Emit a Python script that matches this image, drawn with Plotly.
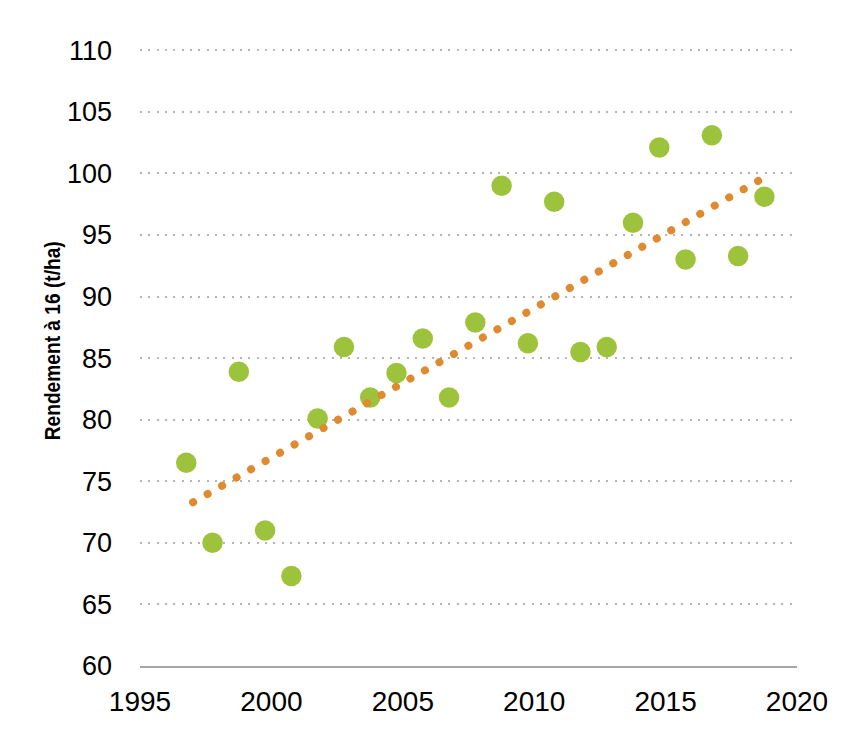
import plotly.graph_objects as go

x_points = [1996.76, 1997.76, 1998.76, 1999.76, 2000.76, 2001.76, 2002.76, 2003.76,
            2004.76, 2005.76, 2006.76, 2007.76, 2008.76, 2009.76, 2010.76, 2011.76,
            2012.76, 2013.76, 2014.76, 2015.76, 2016.76, 2017.76, 2018.76]
yields = [76.5, 70.0, 83.9, 71.0, 67.3, 80.1, 85.9, 81.8,
          83.8, 86.6, 81.8, 87.9, 99.0, 86.2, 97.7, 85.5,
          85.9, 96.0, 102.1, 93.0, 103.1, 93.3, 98.1]

# Linear trend end points (as drawn)
trend_x = [1997.02, 2018.53]
trend_y = [73.3, 99.4]

x_ticks = [1995, 2000, 2005, 2010, 2015, 2020]
y_ticks = [60, 65, 70, 75, 80, 85, 90, 95, 100, 105, 110]
y_title = "Rendement à 16 (t/ha)"

GREEN = "#9DC33C"
ORANGE = "#DF8A2F"

fig = go.Figure()
fig.add_trace(go.Scatter(
    x=x_points, y=yields, mode="markers",
    marker=dict(size=20.5, color=GREEN, line=dict(width=0)),
    hoverinfo="skip", showlegend=False,
))
fig.add_trace(go.Scatter(
    x=trend_x, y=trend_y, mode="lines",
    line=dict(color=ORANGE, width=8, dash="0.1px,16.6px"),
    hoverinfo="skip", showlegend=False,
))

fig.update_layout(
    width=850, height=738,
    margin=dict(l=140, r=53, t=49, b=72),
    paper_bgcolor="white", plot_bgcolor="white",
    font=dict(family="Liberation Sans, Arial, sans-serif", color="black"),
    showlegend=False,
)
fig.update_xaxes(
    range=[1995, 2020], tickvals=x_ticks, ticktext=[str(v) for v in x_ticks],
    showgrid=False, zeroline=False, showline=True, automargin=False,
    linecolor="#A6A6A6", linewidth=1.5, ticks="",
    tickfont=dict(size=28), ticklabelstandoff=10,
)
fig.update_yaxes(
    range=[60, 110.1], tickvals=y_ticks, ticktext=[str(v) for v in y_ticks],
    showgrid=True, gridcolor="#B4B4B4", gridwidth=2, griddash="2px,6.33px",
    zeroline=False, showline=False, ticks="", automargin=False,
    tickfont=dict(size=27), ticklabelstandoff=27,
)
fig.add_annotation(
    text=y_title, textangle=-90, showarrow=False,
    xref="paper", yref="paper", x=-0.1324, y=0.526,
    xanchor="center", yanchor="middle",
    font=dict(family="Liberation Sans, Arial, sans-serif", size=21.5, weight="bold", color="black"),
)

post = """
document.body.style.margin = '0';
document.body.style.padding = '0';
var gd = document.getElementById('{plot_id}');
function fixStyles(){
  gd.querySelectorAll('.scatterlayer path.js-line').forEach(function(p){
    p.style.strokeLinecap = 'round';
    try {
      var L = p.getTotalLength();
      var step = (L - 0.3) / 39;
      p.style.strokeDasharray = '0.1px,' + (step - 0.1) + 'px';
    } catch(e) {}
  });
  gd.querySelectorAll('.annotation-text').forEach(function(t){
    t.setAttribute('textLength', '199');
    t.setAttribute('lengthAdjust', 'spacingAndGlyphs');
  });
}
fixStyles();
gd.on('plotly_afterplot', fixStyles);
"""
fig.write_html("out.html", post_script=post, config={"displayModeBar": False, "staticPlot": True})
